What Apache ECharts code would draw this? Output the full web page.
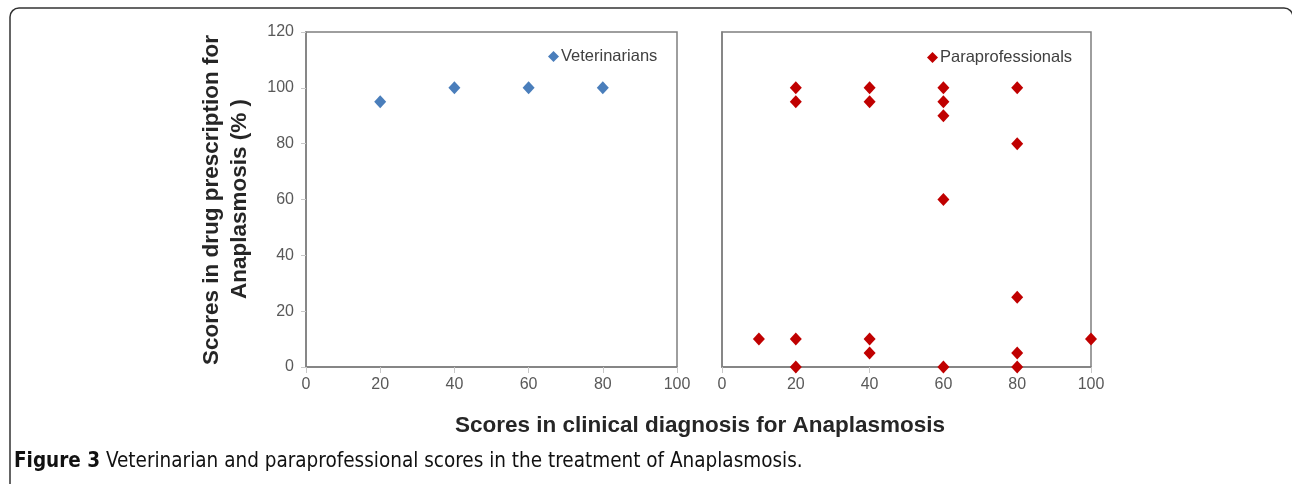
<!DOCTYPE html>
<html>
<head>
<meta charset="utf-8">
<script src="https://cdn.jsdelivr.net/npm/echarts@6/dist/echarts.min.js"></script>
<style>
  html, body { margin: 0; padding: 0; background: #fff; }
  #chart { width: 1292px; height: 484px; }
</style>
</head>
<body>
<div id="chart"></div>
<script>
// scores
const vetX = [20, 40, 60, 80]
const vetY = [95, 100, 100, 100]

const paraX = [10, 20, 20, 20, 20, 40, 40, 40, 40, 60, 60, 60, 60, 60, 80, 80, 80, 80, 80, 100]
const paraY = [10, 100, 95, 10, 0, 100, 95, 10, 5, 100, 95, 90, 60, 0, 100, 80, 25, 5, 0, 10]

const xTicks = [0, 20, 40, 60, 80, 100]
const yTicks = [0, 20, 40, 60, 80, 100, 120]

const chart = echarts.init(document.getElementById('chart'))

const frameColor = '#7f7f7f'
const tickColor = '#c8c8c8'
const labelColor = '#595959'
const font = 'Liberation Sans, Arial, sans-serif'
const titleFont = 'bold 22.5px Liberation Sans, Arial, sans-serif'
const captionFamily = 'Liberation Sans Narrow, DejaVu Sans Condensed, sans-serif'

const xAxisBase = (gridIndex) => ({
  type: 'value',
  gridIndex,
  min: xTicks[0],
  max: xTicks[xTicks.length - 1],
  interval: 20,
  axisLine: { show: true, lineStyle: { color: frameColor, width: 1.5 } },
  axisTick: { show: true, length: 6, lineStyle: { color: tickColor } },
  axisLabel: { color: labelColor, fontSize: 16, fontFamily: font, margin: 10 },
  splitLine: { show: false }
})

const yAxisBase = (gridIndex, showLabels) => ({
  type: 'value',
  gridIndex,
  min: yTicks[0],
  max: yTicks[yTicks.length - 1],
  interval: 20,
  axisLine: { show: true, lineStyle: { color: frameColor, width: 1.5 } },
  axisTick: { show: showLabels, length: 5, lineStyle: { color: tickColor } },
  axisLabel: { show: showLabels, color: labelColor, fontSize: 16, fontFamily: font, margin: 12 },
  splitLine: { show: false }
})

const toPairs = (xs, ys) => xs.map((x, i) => [x, ys[i]])

const option = {
  animation: false,
  backgroundColor: '#fff',
  grid: [
    { left: 306, top: 32, width: 371, height: 335, show: true, borderColor: frameColor, borderWidth: 1.5 },
    { left: 722, top: 32, width: 369, height: 335, show: true, borderColor: frameColor, borderWidth: 1.5 }
  ],
  xAxis: [xAxisBase(0), xAxisBase(1)],
  yAxis: [yAxisBase(0, true), yAxisBase(1, false)],
  legend: [
    {
      data: ['Veterinarians'],
      left: 543, top: 43,
      itemWidth: 11, itemHeight: 11,
      icon: 'diamond',
      textStyle: { color: '#404040', fontSize: 16.5, fontFamily: font, padding: [0, 0, 0, -3] }
    },
    {
      data: ['Paraprofessionals'],
      left: 922, top: 44,
      itemWidth: 11, itemHeight: 11,
      icon: 'diamond',
      textStyle: { color: '#404040', fontSize: 16.5, fontFamily: font, padding: [0, 0, 0, -3] }
    }
  ],
  series: [
    {
      name: 'Veterinarians',
      type: 'scatter',
      xAxisIndex: 0, yAxisIndex: 0,
      symbol: 'diamond',
      symbolSize: [12, 13],
      itemStyle: { color: '#4a7ebb', opacity: 1 },
      data: toPairs(vetX, vetY)
    },
    {
      name: 'Paraprofessionals',
      type: 'scatter',
      xAxisIndex: 1, yAxisIndex: 1,
      symbol: 'diamond',
      symbolSize: [12, 13],
      itemStyle: { color: '#c00000', opacity: 1 },
      data: toPairs(paraX, paraY)
    }
  ],
  graphic: [
    {
      type: 'rect',
      shape: { x: 10, y: 8, width: 1283, height: 500, r: 9 },
      style: { fill: 'none', stroke: '#333', lineWidth: 1.5 }
    },
    {
      type: 'text',
      x: 212, y: 200,
      rotation: Math.PI / 2,
      style: {
        text: 'Scores in drug prescription for',
        font: titleFont,
        fill: '#262626',
        align: 'center', verticalAlign: 'middle'
      }
    },
    {
      type: 'text',
      x: 240, y: 199,
      rotation: Math.PI / 2,
      style: {
        text: 'Anaplasmosis (% )',
        font: titleFont,
        fill: '#262626',
        align: 'center', verticalAlign: 'middle'
      }
    },
    {
      type: 'text',
      x: 700, y: 426,
      style: {
        text: 'Scores in clinical diagnosis for Anaplasmosis',
        font: titleFont,
        fill: '#262626',
        align: 'center', verticalAlign: 'middle'
      }
    },
    {
      type: 'text',
      x: 14, y: 462,
      style: {
        text: '{b|Figure 3} Veterinarian and paraprofessional scores in the treatment of Anaplasmosis.',
        font: '20.5px ' + captionFamily,
        fill: '#111',
        verticalAlign: 'middle',
        rich: {
          b: { fontWeight: 'bold', fontSize: 20.5, fontFamily: captionFamily, fill: '#111' }
        }
      }
    }
  ]
}

chart.setOption(option)
</script>
</body>
</html>
